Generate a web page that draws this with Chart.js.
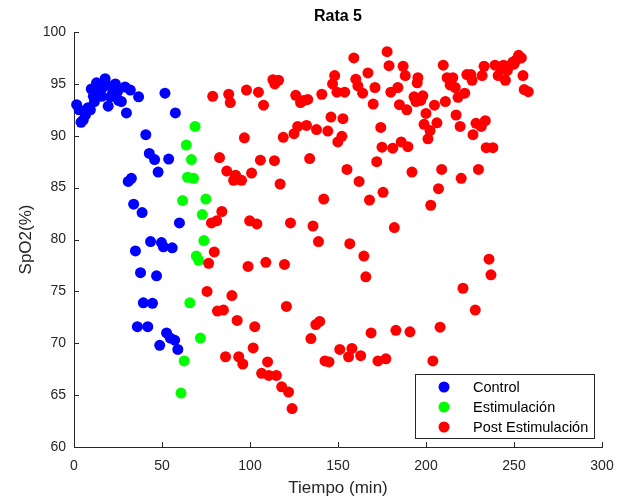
<!DOCTYPE html>
<html>
<head>
<meta charset="utf-8">
<script src="https://cdn.jsdelivr.net/npm/chart.js@4/dist/chart.umd.min.js"></script>
<style>
html,body{margin:0;padding:0;background:#fff;}
canvas{display:block;}
</style>
</head>
<body>
<canvas id="c" width="628" height="504" style="width:628px;height:504px"></canvas>
<script>
// ---- Data ----
const chartTitle = 'Rata 5';
const xAxisLabel = 'Tiempo (min)';
const yAxisLabel = 'SpO2(%)';
const seriesNames = ['Control', 'Estimulación', 'Post Estimulación'];
const xTicks = [0, 50, 100, 150, 200, 250, 300];
const yTicks = [60, 65, 70, 75, 80, 85, 90, 95, 100];

const controlTime = [1.5,2.9,4.0,5.2,6.5,8.0,9.3,9.8,11.0,11.6,12.8,13.5,14.3,15.7,16.0,17.7,18.5,19.4,20.7,22.0,23.5,24.6,25.3,26.9,29.0,29.8,32.0,36.7,51.7,57.6,40.8,42.8,45.8,53.8,47.8,30.8,32.6,33.9,38.7,59.9,34.9,43.5,49.7,50.8,55.8,37.8,46.9,39.4,44.6,36.0,41.9,52.6,54.7,57.2,48.7,59.0];
const controlSpO2 = [93.0,92.5,91.3,91.5,92.0,92.7,92.5,94.5,93.8,93.3,95.1,94.0,94.4,93.8,94.6,95.5,94.9,92.85,93.75,94.2,95.0,94.2,93.4,93.3,94.7,92.2,94.4,93.75,94.1,92.2,90.1,88.3,87.7,87.75,86.5,85.6,85.9,83.4,82.6,81.6,78.9,79.8,79.7,79.3,79.2,76.8,76.5,73.9,73.85,71.6,71.6,71.0,70.5,70.3,69.8,69.4];

const stimTime = [68.8,63.8,66.7,64.5,67.9,61.7,74.9,72.9,73.8,69.5,70.8,65.8,71.8,62.6,60.8];
const stimSpO2 = [90.9,89.1,87.7,86.0,85.9,83.75,83.9,82.4,79.9,78.4,78.0,73.9,70.5,68.3,65.2];

const postTime = [78.8,87.9,88.8,98.0,104.8,107.7,113.0,114.1,116.2,126.0,128.7,130.5,132.8,140.8,146.9,148.1,149.4,153.8,159.0,160.1,161.3,164.0,167.0,171.0,170.0,177.9,179.0,180.0,184.0,184.9,187.0,188.2,189.1,195.4,195.0,193.2,194.3,197.0,198.2,200.0,198.9,202.3,201.1,204.8,206.2,209.8,211.0,212.0,213.7,215.2,216.6,218.2,217.1,219.4,222.0,223.2,225.5,226.2,226.7,228.4,231.4,233.7,231.9,233.0,234.2,238.0,239.2,241.0,244.0,245.1,246.2,247.8,249.4,251.3,252.6,254.2,255.1,255.8,258.1,242.5,250.0,
  125.0,127.1,132.1,137.8,144.2,146.0,149.9,152.2,152.8,118.9,96.8,82.7,86.8,91.8,90.7,95.2,100.9,105.9,113.9,117.1,133.9,155.1,162.0,167.9,172.0,175.0,174.3,175.6,181.1,185.9,189.7,192.0,202.7,207.1,208.9,220.0,229.8,
  141.9,84.0,78.1,81.1,99.8,103.9,123.0,135.8,138.9,156.7,79.7,76.5,98.9,109.0,119.6,164.7,165.8,182.0,75.6,89.7,81.5,84.9,120.7,92.7,102.7,137.4,139.6,134.6,168.8,182.9,190.9,208.0,221.0,228.0,235.8,236.9,
  86.1,93.6,95.9,101.8,110.0,106.6,110.7,115.0,118.0,121.9,123.9,151.0,157.9,156.0,162.9,142.6,144.9,172.7,177.2,203.9];
const postSpO2 = [93.8,94.0,93.2,94.4,94.2,92.95,95.4,95.0,95.35,93.9,93.2,93.4,93.5,94.0,95.0,95.8,94.2,94.2,97.5,95.45,94.8,94.1,96.05,94.65,93.05,98.1,96.75,94.2,94.65,93.0,96.7,95.8,92.5,95.6,95.1,93.75,93.3,93.4,93.85,92.15,91.1,90.5,89.7,92.95,91.25,96.8,93.3,95.6,94.9,95.6,94.65,93.7,92.0,90.9,94.1,95.9,95.9,95.35,90.1,91.2,90.9,91.45,95.8,96.7,88.85,88.85,96.8,95.8,96.8,95.35,96.3,96.8,97.1,97.3,97.75,97.5,95.8,94.45,94.25,96.5,96.9,
  90.2,90.9,91.0,90.6,90.45,91.8,89.4,89.95,91.65,89.85,89.8,87.9,86.6,86.2,85.7,85.7,86.4,87.65,87.6,85.35,87.8,86.75,85.6,83.8,87.5,88.9,90.8,84.55,88.8,89.4,88.95,86.5,83.3,84.9,86.75,85.9,86.75,
  83.9,82.7,81.6,81.8,81.8,81.5,81.6,81.3,79.8,79.6,78.8,77.7,77.4,77.8,77.6,78.4,76.4,81.15,75.0,74.6,73.1,73.2,73.55,72.2,71.6,71.8,72.1,70.45,71.0,71.25,71.1,71.55,75.3,73.2,78.1,76.6,
  68.7,68.7,68.0,69.55,68.2,67.1,66.9,66.9,65.8,65.3,63.7,69.4,69.5,68.7,68.8,68.3,68.2,68.3,68.5,68.3];

const seriesColors = ['#0000ff', '#00ff00', '#ff0000'];

function toPoints(xs, ys){ return xs.map((x,i)=>({x:x, y:ys[i]})); }

const FONT = "'Liberation Sans', Arial, Helvetica, sans-serif";
const AXIS = '#262626';

const inwardTicks = {
  id: 'inwardTicks',
  afterDraw(chart){
    const c = chart.ctx, a = chart.chartArea, xs = chart.scales.x, ys = chart.scales.y;
    c.save();
    c.strokeStyle = AXIS; c.lineWidth = 1;
    c.beginPath();
    xTicks.forEach(v=>{ const p = Math.round(xs.getPixelForValue(v))+0.5; c.moveTo(p, a.bottom); c.lineTo(p, a.bottom-5); });
    yTicks.forEach(v=>{ const p = Math.round(ys.getPixelForValue(v))+0.5; c.moveTo(a.left, p); c.lineTo(a.left+5, p); });
    c.stroke();
    // title
    c.fillStyle = '#000';
    c.font = 'bold 16px ' + FONT;
    c.textAlign = 'center'; c.textBaseline = 'middle';
    c.fillText(chartTitle, (a.left+a.right)/2, 17);
    // legend
    const lx = 415.5, ly = 374.5, lw = 179, lh = 64;
    c.fillStyle = '#fff'; c.fillRect(lx, ly, lw, lh);
    c.strokeStyle = '#262626'; c.strokeRect(lx, ly, lw, lh);
    c.font = '14.5px ' + FONT; c.textAlign = 'left';
    chart.data.datasets.forEach((ds, i)=>{
      const y = 387 + i*20;
      c.fillStyle = ds.backgroundColor;
      c.beginPath(); c.arc(444, y, 5.5, 0, Math.PI*2); c.fill();
      c.fillStyle = '#000';
      c.fillText(ds.label, 473, y+1);
    });
    c.restore();
  }
};

new Chart(document.getElementById('c'), {
  type: 'scatter',
  data: {
    datasets: [
      {label: seriesNames[0], data: toPoints(controlTime, controlSpO2), backgroundColor: seriesColors[0], order: 3, clip: false},
      {label: seriesNames[1], data: toPoints(stimTime, stimSpO2), backgroundColor: seriesColors[1], order: 2, clip: false},
      {label: seriesNames[2], data: toPoints(postTime, postSpO2), backgroundColor: seriesColors[2], order: 1, clip: false}
    ]
  },
  options: {
    responsive: false,
    animation: false,
    events: [],
    elements: { point: { radius: 5.5, hoverRadius: 5.5, borderWidth: 0, pointStyle: 'circle' } },
    layout: { padding: { left: 0, right: 26, top: 32, bottom: 0 } },
    plugins: { legend: {display: false}, title: {display: false}, tooltip: {enabled: false} },
    scales: {
      x: {
        type: 'linear', min: 0, max: 300,
        afterBuildTicks(s){ s.ticks = xTicks.map(v=>({value:v})); },
        afterFit(s){ s.height = 57; },
        ticks: { padding: 11, color: AXIS, font: {family: FONT, size: 14} },
        grid: { drawOnChartArea: false, drawTicks: false },
        border: { color: AXIS, width: 1 },
        title: { display: true, text: xAxisLabel, color: AXIS, font: {family: FONT, size: 17}, padding: {top: 0, bottom: 5} }
      },
      y: {
        type: 'linear', min: 60, max: 100,
        afterBuildTicks(s){ s.ticks = yTicks.map(v=>({value:v})); },
        afterFit(s){ s.width = 74; },
        ticks: { padding: 8, color: AXIS, font: {family: FONT, size: 14} },
        grid: { drawOnChartArea: false, drawTicks: false },
        border: { color: AXIS, width: 1 },
        title: { display: true, text: yAxisLabel, color: AXIS, font: {family: FONT, size: 17}, padding: {top: 16, bottom: 0} }
      }
    }
  },
  plugins: [inwardTicks]
});
</script>
</body>
</html>
